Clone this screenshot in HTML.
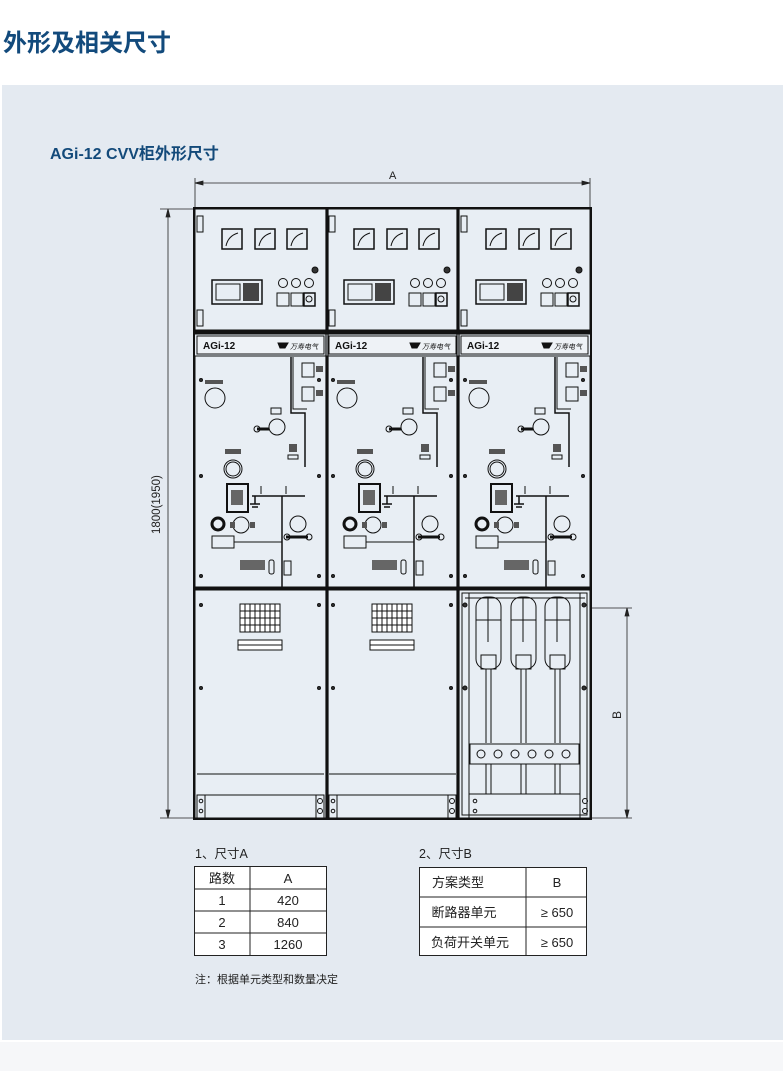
<!DOCTYPE html>
<html><head><meta charset="utf-8"><style>
html,body{margin:0;padding:0;background:#fff;width:783px;height:1071px;overflow:hidden;font-family:"Liberation Sans","Noto Sans CJK SC",sans-serif}
.h1{position:absolute;left:3px;top:23px;font-size:24px;font-weight:bold;color:#124a7c;font-family:"Noto Sans CJK SC",sans-serif}
.bg{position:absolute;left:2px;top:85px;width:781px;height:955px;background:#e4eaf1}
.foot{position:absolute;left:0;top:1042px;width:783px;height:29px;background:#f6f7f9}
.h2{position:absolute;left:50px;top:140px;font-size:16px;font-weight:bold;color:#134a7a;font-family:"Liberation Sans","Noto Sans CJK SC",sans-serif}
svg{position:absolute;left:0;top:0}
</style></head><body>
<div class="h1">外形及相关尺寸</div>
<div class="bg"></div>
<div class="foot"></div>
<div class="h2">AGi-12 CVV柜外形尺寸</div>
<svg width="783" height="1071" viewBox="0 0 783 1071" font-family="Liberation Sans, Noto Sans CJK SC, sans-serif">
<defs>
<g id="top" fill="none" stroke="#111" stroke-width="1">
  <rect x="0" y="209" width="131" height="121" fill="#e8eef4"/>
  <rect x="2" y="216" width="6" height="16" />
  <rect x="2" y="310" width="6" height="16" />
  <rect x="27" y="229" width="20" height="20" stroke-width="1.5"/>
  <rect x="60" y="229" width="20" height="20" stroke-width="1.5"/>
  <rect x="92" y="229" width="20" height="20" stroke-width="1.5"/>
  <path d="M31 246 Q33 236 43 233 M64 246 Q66 236 76 233 M96 246 Q98 236 108 233"/>
  <circle cx="120" cy="270" r="3" fill="#333"/>
  <rect x="17" y="280" width="50" height="24" stroke-width="1.5"/>
  <rect x="21" y="284" width="24" height="16" />
  <rect x="48" y="283" width="16" height="18" fill="#444" stroke="none"/>
  <circle cx="88" cy="283" r="4.5"/><circle cx="101" cy="283" r="4.5"/><circle cx="114" cy="283" r="4.5"/>
  <rect x="82" y="293" width="12" height="13"/><rect x="96" y="293" width="12" height="13"/><rect x="109" y="293" width="11" height="13" stroke-width="1.5"/>
  <circle cx="114" cy="299" r="3"/>
  <rect x="0" y="330" width="131" height="4" fill="#111"/>
  <rect x="2" y="336" width="127" height="18" fill="#eef2f6"/>
  <text x="8" y="349" font-size="10" font-weight="bold" fill="#111" stroke="none">AGi-12</text>
  <path d="M83 343 h10 l-3 5 h-5z" fill="#111"/>
  <text x="95" y="349" font-size="7" font-style="italic" fill="#111" stroke="none">万寿电气</text>
  <rect x="0" y="356" width="131" height="231" fill="#e8eef4"/>
  <circle cx="20" cy="398" r="10"/>
  <rect x="10" y="380" width="18" height="4" fill="#555" stroke="none"/>
  <path d="M96 357 v56 h14 v54" stroke-width="1.5"/>
  <path d="M98 357 v52 h14" />
  <rect x="107" y="363" width="12" height="14"/><rect x="107" y="387" width="12" height="14"/>
  <rect x="121" y="366" width="7" height="6" fill="#555" stroke="none"/>
  <rect x="121" y="390" width="7" height="6" fill="#555" stroke="none"/>
  <circle cx="82" cy="427" r="8"/>
  <rect x="76" y="408" width="10" height="6"/>
  <path d="M62 429 h12" stroke-width="3"/><circle cx="62" cy="429" r="3"/>
  <circle cx="38" cy="469" r="9"/><circle cx="38" cy="469" r="7"/>
  <rect x="30" y="449" width="16" height="5" fill="#555" stroke="none"/>
  <rect x="94" y="444" width="8" height="8" fill="#555" stroke="none"/>
  <rect x="93" y="455" width="10" height="4"/>
  <rect x="32" y="484" width="21" height="28" stroke-width="2"/>
  <rect x="36" y="490" width="12" height="15" fill="#666" stroke="none"/>
  <path d="M57 496 h53 M87 496 v95 M60 496 v8 M55 504 h10 M57 507 h6" stroke-width="1.5"/>
  <path d="M66 486 v8 M91 486 v8"/>
  <circle cx="23" cy="524" r="6" stroke-width="3"/>
  <circle cx="46" cy="525" r="8"/>
  <rect x="35" y="522" width="5" height="6" fill="#555" stroke="none"/>
  <rect x="55" y="522" width="5" height="6" fill="#555" stroke="none"/>
  <circle cx="103" cy="524" r="8"/>
  <path d="M91 537 h22" stroke-width="3"/><circle cx="92" cy="537" r="3"/><circle cx="114" cy="537" r="3"/>
  <rect x="17" y="536" width="22" height="12"/>
  <path d="M39 542 h48"/>
  <rect x="45" y="560" width="25" height="10" fill="#666" stroke="none"/>
  <rect x="74" y="560" width="5" height="14" rx="2"/>
  <rect x="89" y="561" width="7" height="14"/>
  <circle cx="6" cy="380" r="1.5" fill="#333"/><circle cx="124" cy="380" r="1.5" fill="#333"/>
  <circle cx="6" cy="476" r="1.5" fill="#333"/><circle cx="124" cy="476" r="1.5" fill="#333"/>
  <circle cx="6" cy="576" r="1.5" fill="#333"/><circle cx="124" cy="576" r="1.5" fill="#333"/>
  <rect x="0" y="587" width="131" height="2.5" fill="#111"/>
</g>
<g id="low" fill="none" stroke="#111" stroke-width="1">
  <rect x="0" y="590" width="131" height="228" fill="#e8eef4"/>
  <rect x="45" y="604" width="40" height="28" fill="#fff"/>
  <path d="M50 604v28M55 604v28M60 604v28M65 604v28M70 604v28M75 604v28M80 604v28M45 611h40M45 618h40M45 625h40"/>
  <rect x="43" y="640" width="44" height="10" fill="#fff"/>
  <path d="M43 645 h44"/>
  <circle cx="6" cy="605" r="1.5" fill="#333"/><circle cx="124" cy="605" r="1.5" fill="#333"/>
  <circle cx="6" cy="688" r="1.5" fill="#333"/><circle cx="124" cy="688" r="1.5" fill="#333"/>
  <path d="M2 774 h127"/>
  <rect x="2" y="795" width="127" height="23"/>
  <path d="M10 795 v23 M121 795 v23"/>
  <circle cx="6" cy="801" r="1.8"/><circle cx="6" cy="811" r="1.8"/>
  <circle cx="125" cy="801" r="2.5"/><circle cx="125" cy="811" r="2.5"/>
</g>
</defs>
<g fill="none" stroke="#222" stroke-width="0.8">
  <path d="M195 178 v30 M590 178 v30 M195 183 h395"/>
  <path d="M195 183 l8 -2 v4z M590 183 l-8 -2 v4z" fill="#222"/>
  <path d="M160 209 h34 M160 818 h34 M168 209 v609"/>
  <path d="M168 209 l-2 8 h4z M168 818 l-2 -8 h4z" fill="#222"/>
  <path d="M590 608 h42 M590 818 h42 M627 608 v210"/>
  <path d="M627 608 l-2 8 h4z M627 818 l-2 -8 h4z" fill="#222"/>
</g>
<text x="389" y="179" font-size="11" fill="#222">A</text>
<text transform="translate(160,534) rotate(-90)" font-size="11.5" fill="#222">1800(1950)</text>
<text transform="translate(621,719) rotate(-90)" font-size="12" fill="#222">B</text>
<rect x="194" y="208" width="397" height="611" fill="none" stroke="#111" stroke-width="2"/>
<use href="#top" transform="translate(195,0)"/>
<use href="#top" transform="translate(327,0)" />
<use href="#top" transform="translate(459,0)"/>
<use href="#low" transform="translate(195,0)"/>
<use href="#low" transform="translate(327,0)"/>
<g fill="none" stroke="#111" stroke-width="1">
  <rect x="459" y="590" width="131" height="228" fill="#e8eef4"/>
  <rect x="462" y="593" width="125" height="222"/>
  <path d="M469 593 v225 M580 593 v225"/>
  <path d="M465 598 h120"/>
  <rect x="476" y="597" width="25" height="72" rx="10"/><path d="M476 620 h25 M488 597 v45"/>
  <rect x="511" y="597" width="25" height="72" rx="10"/><path d="M511 620 h25 M523 597 v45"/>
  <rect x="545" y="597" width="25" height="72" rx="10"/><path d="M545 620 h25 M557 597 v45"/>
  <rect x="481" y="655" width="15" height="14"/><rect x="516" y="655" width="15" height="14"/><rect x="550" y="655" width="15" height="14"/>
  <path d="M486 669 v74 M491 669 v74 M521 669 v74 M526 669 v74 M555 669 v74 M560 669 v74"/>
  <rect x="470" y="744" width="109" height="20"/>
  <circle cx="481" cy="754" r="4"/><circle cx="498" cy="754" r="4"/>
  <circle cx="515" cy="754" r="4"/><circle cx="532" cy="754" r="4"/>
  <circle cx="549" cy="754" r="4"/><circle cx="566" cy="754" r="4"/>
  <path d="M486 764 v30 M491 764 v30 M521 764 v30 M526 764 v30 M555 764 v30 M560 764 v30"/>
  <path d="M469 794 h111"/>
  <circle cx="465" cy="605" r="2" fill="#333"/><circle cx="584" cy="605" r="2" fill="#333"/>
  <circle cx="465" cy="688" r="2" fill="#333"/><circle cx="584" cy="688" r="2" fill="#333"/>
  <circle cx="475" cy="801" r="1.8"/><circle cx="475" cy="811" r="1.8"/>
  <circle cx="585" cy="801" r="2.5"/><circle cx="585" cy="811" r="2.5"/>
</g>
<path d="M326 209 v609 M328 209 v609 M457 209 v609 M459 209 v609" stroke="#111" stroke-width="1.2"/>
<g font-size="12.5" fill="#222" font-family="Liberation Sans, Noto Sans CJK SC, sans-serif">
  <text x="195" y="858">1、尺寸A</text>
  <text x="419" y="858">2、尺寸B</text>
  <text x="195" y="983" font-size="11">注：根据单元类型和数量决定</text>
</g>
<g fill="#fff" stroke="#222" stroke-width="1">
  <rect x="194.5" y="866.5" width="132" height="89"/>
  <path d="M194.5 889 h132 M194.5 911 h132 M194.5 933 h132 M250 866.5 v89" fill="none"/>
  <rect x="419.5" y="867.5" width="167" height="88"/>
  <path d="M419.5 897 h167 M419.5 927 h167 M526 867.5 v88" fill="none"/>
</g>
<g font-size="13" fill="#222" text-anchor="middle">
  <text x="222" y="883">路数</text><text x="288" y="883">A</text>
  <text x="222" y="905">1</text><text x="288" y="905">420</text>
  <text x="222" y="927">2</text><text x="288" y="927">840</text>
  <text x="222" y="949">3</text><text x="288" y="949">1260</text>
  <text x="458" y="887">方案类型</text><text x="557" y="887">B</text>
  <text x="464" y="917">断路器单元</text><text x="557" y="917">≥ 650</text>
  <text x="470" y="947">负荷开关单元</text><text x="557" y="947">≥ 650</text>
</g>
</svg>
</body></html>
